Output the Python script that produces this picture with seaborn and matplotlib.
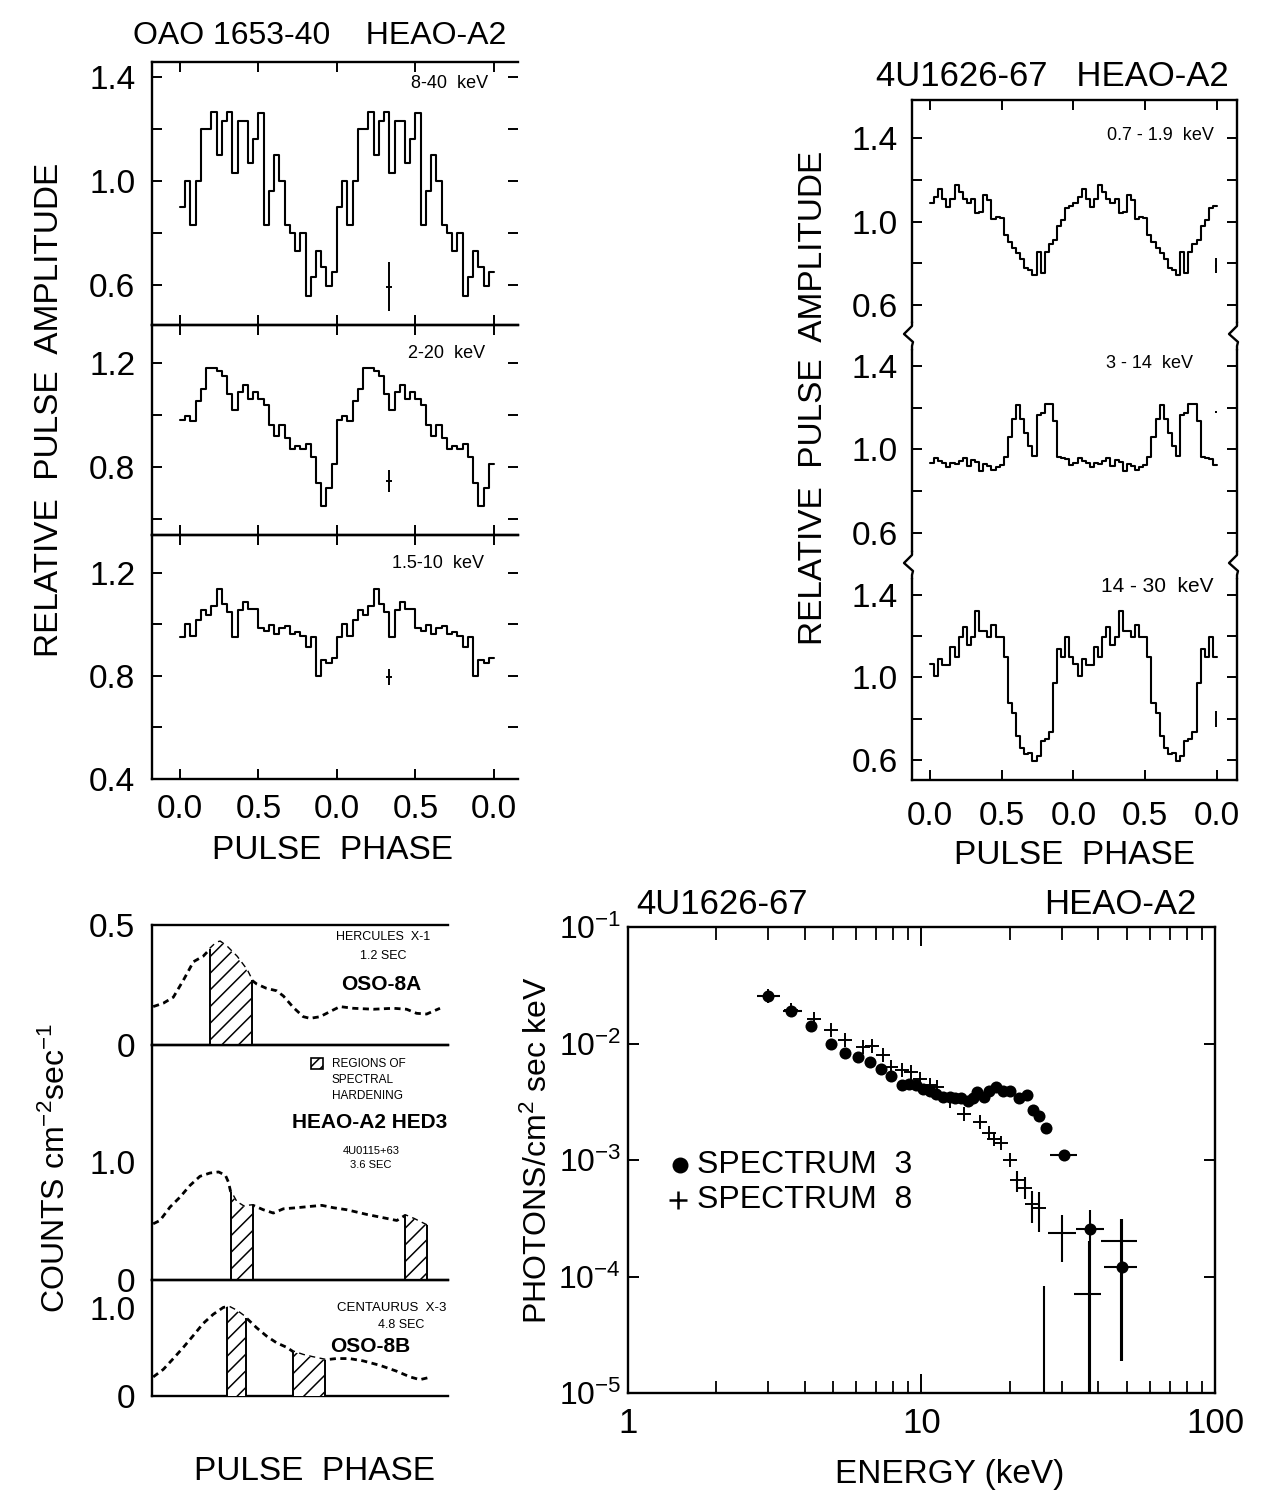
import numpy as np
import pandas as pd
import matplotlib
matplotlib.use("Agg")
import matplotlib.pyplot as plt
from matplotlib.lines import Line2D
from matplotlib.patches import Rectangle
from matplotlib.ticker import LogLocator, NullFormatter
import seaborn as sns

# ---------------------------------------------------------------- data
# OAO 1653-40 (HEAO-A2) relative pulse amplitude, 30 phase bins per cycle
oao_8_40 = [0.90, 1.00, 0.83, 1.00, 1.20, 1.20, 1.265, 1.10, 1.23, 1.265,
            1.03, 1.23, 1.23, 1.07, 1.16, 1.26, 0.83, 0.96, 1.10, 1.00,
            0.83, 0.80, 0.73, 0.80, 0.556, 0.63, 0.73, 0.67, 0.595, 0.65]
oao_2_20 = [0.98, 0.995, 0.975, 1.055, 1.10, 1.18, 1.18, 1.17, 1.15, 1.08,
            1.02, 1.09, 1.115, 1.06, 1.09, 1.06, 1.04, 0.96, 0.92, 0.96,
            0.91, 0.87, 0.88, 0.87, 0.89, 0.84, 0.74, 0.65, 0.72, 0.81]
oao_1p5_10 = [0.95, 1.00, 0.955, 1.017, 1.055, 1.035, 1.07, 1.135, 1.077, 1.047,
              0.95, 1.055, 1.086, 1.06, 1.06, 0.986, 0.974, 0.997, 0.962, 0.986,
              0.994, 0.962, 0.968, 0.955, 0.91, 0.95, 0.80, 0.86, 0.85, 0.87]
oao_bands = ["8-40  keV", "2-20  keV", "1.5-10  keV"]
oao_err_phase = [1.33, 1.33, 1.33]
oao_err_value = [0.594, 0.745, 0.795]
oao_err_size = [0.095, 0.042, 0.030]

# 4U1626-67 (HEAO-A2) relative pulse amplitude, 35 phase bins per cycle
u_0p7_1p9 = [1.091, 1.117, 1.157, 1.110, 1.070, 1.110, 1.176, 1.144, 1.107, 1.091,
             1.110, 1.043, 1.048, 1.128, 1.104, 1.011, 1.024, 1.016, 0.936, 0.904,
             0.872, 0.848, 0.819, 0.776, 0.768, 0.744, 0.856, 0.752, 0.856, 0.893,
             0.912, 0.979, 1.010, 1.064, 1.075]
u_3_14 = [0.936, 0.957, 0.946, 0.933, 0.914, 0.936, 0.930, 0.946, 0.957, 0.920,
          0.949, 0.941, 0.898, 0.930, 0.920, 0.901, 0.914, 0.925, 0.962, 1.061,
          1.144, 1.213, 1.144, 1.077, 1.016, 0.968, 1.165, 1.176, 1.218, 1.218,
          1.138, 0.965, 0.957, 0.952, 0.925]
u_14_30 = [1.065, 1.008, 1.089, 1.060, 1.060, 1.145, 1.097, 1.198, 1.242, 1.156,
           1.198, 1.323, 1.226, 1.226, 1.194, 1.253, 1.194, 1.194, 1.100, 0.876,
           0.827, 0.718, 0.661, 0.629, 0.637, 0.597, 0.621, 0.694, 0.702, 0.734,
           0.973, 1.140, 1.100, 1.198, 1.100]
u_bands = ["0.7 - 1.9  keV", "3 - 14  keV", "14 - 30  keV"]
u_err_phase = [1.99, 1.99, 1.99]
u_err_value = [0.788, 1.180, 0.800]
u_err_size = [0.036, 0.005, 0.040]

phase_ticks = [0.0, 0.5, 1.0, 1.5, 2.0]
phase_labels = ["0.0", "0.5", "0.0", "0.5", "0.0"]

# Pulse profiles with regions of spectral hardening (counts cm^-2 s^-1)
herc_phase = [0.004, 0.038, 0.072, 0.106, 0.140, 0.173, 0.196, 0.218, 0.230, 0.252,
              0.286, 0.320, 0.337, 0.354, 0.387, 0.421, 0.444, 0.477, 0.511, 0.534,
              0.568, 0.601, 0.635, 0.680, 0.748, 0.815, 0.860, 0.894, 0.928, 0.973]
herc_counts = [0.160, 0.174, 0.199, 0.270, 0.347, 0.370, 0.400, 0.426, 0.430, 0.410,
               0.368, 0.312, 0.270, 0.254, 0.236, 0.226, 0.204, 0.157, 0.118, 0.111,
               0.118, 0.139, 0.160, 0.153, 0.149, 0.153, 0.149, 0.132, 0.129, 0.153]
herc_hard = [(0.196, 0.337)]

x0115_phase = [0.004, 0.027, 0.061, 0.095, 0.128, 0.162, 0.196, 0.225, 0.248, 0.258,
               0.266, 0.285, 0.309, 0.342, 0.376, 0.410, 0.444, 0.489, 0.534, 0.574,
               0.613, 0.658, 0.726, 0.782, 0.827, 0.855, 0.883, 0.928]
x0115_counts = [0.476, 0.504, 0.618, 0.703, 0.800, 0.878, 0.906, 0.915, 0.887, 0.830,
                0.745, 0.660, 0.623, 0.632, 0.595, 0.567, 0.603, 0.612, 0.623, 0.632,
                0.612, 0.595, 0.555, 0.527, 0.504, 0.547, 0.518, 0.462]
x0115_hard = [(0.266, 0.342), (0.855, 0.928)]

cen_phase = [0.004, 0.038, 0.072, 0.106, 0.140, 0.173, 0.207, 0.241, 0.257, 0.286,
             0.320, 0.354, 0.387, 0.421, 0.455, 0.477, 0.511, 0.545, 0.584, 0.622,
             0.667, 0.713, 0.770, 0.826, 0.872, 0.905, 0.944]
cen_counts = [0.217, 0.302, 0.426, 0.554, 0.690, 0.826, 0.930, 1.008, 1.019, 0.969,
              0.884, 0.775, 0.682, 0.605, 0.554, 0.504, 0.465, 0.438, 0.411, 0.426,
              0.426, 0.400, 0.349, 0.283, 0.217, 0.186, 0.217]
cen_hard = [(0.252, 0.318), (0.477, 0.584)]

# 4U1626-67 photon spectra (keV, photons cm^-2 s^-1 keV^-1)
spec3_energy = [3.0, 3.6, 4.2, 4.9, 5.5, 6.1, 6.7, 7.3, 7.9, 8.6, 9.1, 9.6, 10.1,
                10.7, 11.2, 11.8, 12.5, 13.0, 13.6, 14.4, 15.0, 15.5, 16.3, 17.0,
                18.0, 19.0, 20.1, 21.5, 22.8, 23.9, 25.1, 26.6, 30.5, 37.4, 48.1]
spec3_flux = [0.0255, 0.0189, 0.0142, 0.0099, 0.0083, 0.0076, 0.0069, 0.0061, 0.0053,
              0.0044, 0.0045, 0.0044, 0.0041, 0.0039, 0.0037, 0.0035, 0.0035, 0.0034,
              0.0034, 0.0032, 0.0034, 0.0038, 0.0035, 0.0039, 0.0042, 0.0039, 0.0039,
              0.0034, 0.0036, 0.0027, 0.0024, 0.0019, 0.0011, 2.55e-4, 1.2e-4]
spec3_bar_energy = [3.0, 3.6, 30.5, 37.4, 48.1]
spec3_bar_flux = [0.0255, 0.0189, 0.0011, 2.55e-4, 1.2e-4]
spec3_bar_elo = [2.75, 3.37, 27.3, 33.6, 41.7]
spec3_bar_ehi = [3.30, 3.93, 34.0, 41.8, 54.2]
spec3_bar_flo = [0.0250, 0.0186, 0.00105, 5.0e-6, 1.9e-5]
spec3_bar_fhi = [0.0260, 0.0192, 0.00116, 3.7e-4, 3.1e-4]

spec8_energy = [3.0, 3.6, 4.3, 4.9, 5.5, 6.3, 6.8, 7.4, 7.9, 8.6, 9.2, 9.9, 10.7, 11.3,
                12.5, 14.0, 15.8, 17.0, 17.7, 18.7, 20.1, 21.2, 22.5, 23.8, 25.1]
spec8_flux = [0.0255, 0.0195, 0.0162, 0.0131, 0.0108, 0.0094, 0.0095, 0.0079, 0.0063,
              0.0059, 0.0057, 0.0050, 0.0044, 0.0042, 0.0032, 0.0025, 0.0021, 0.0017,
              0.0015, 0.0014, 0.0010, 6.7e-4, 5.8e-4, 4.2e-4, 3.9e-4]
spec8_bar_energy = [21.2, 22.5, 23.8, 25.1, 30.1, 37.1, 47.7]
spec8_bar_flux = [6.7e-4, 5.8e-4, 4.2e-4, 3.9e-4, 2.36e-4, 7.1e-5, 2.03e-4]
spec8_bar_elo = [21.2, 22.5, 23.8, 25.1, 27.0, 33.2, 40.9]
spec8_bar_ehi = [21.2, 22.5, 23.8, 25.1, 33.6, 40.9, 54.2]
spec8_bar_flo = [5.3e-4, 4.6e-4, 2.9e-4, 2.4e-4, 1.33e-4, 5.0e-6, 1.9e-5]
spec8_bar_fhi = [8.1e-4, 7.1e-4, 5.4e-4, 5.3e-4, 3.4e-4, 2.0e-4, 3.1e-4]
spec8_limit_energy = [26.2]
spec8_limit_top = [8.3e-5]
spec8_limit_bottom = [5.0e-6]

# ---------------------------------------------------------------- style
sns.set_theme(style="white")
FONT = ["Liberation Sans", "DejaVu Sans"]
plt.rcParams["font.family"] = FONT
plt.rcParams["mathtext.fontset"] = "custom"
plt.rcParams["mathtext.rm"] = "Liberation Sans"
plt.rcParams["mathtext.it"] = "Liberation Sans"
plt.rcParams["mathtext.bf"] = "Liberation Sans:bold"
plt.rcParams["hatch.linewidth"] = 1.1
plt.rcParams["axes.linewidth"] = 1.6
for key in ["text.color", "axes.labelcolor", "xtick.color", "ytick.color",
            "axes.edgecolor"]:
    plt.rcParams[key] = "black"

W, H = 1264, 1496
fig = plt.figure(figsize=(W / 100, H / 100), dpi=100)
fig.patch.set_facecolor("white")


def px_axes(x0, y0, x1, y1):
    return fig.add_axes([x0 / W, 1 - y1 / H, (x1 - x0) / W, (y1 - y0) / H])


def ftext(x, y, s, **kw):
    kw.setdefault("ha", "center")
    kw.setdefault("va", "center")
    kw.setdefault("color", "black")
    fig.text(x / W, 1 - y / H, s, **kw)


def profile(ax, vals):
    n = len(vals)
    edges = np.arange(2 * n + 1) / n
    amp = np.append(np.tile(vals, 2), vals[-1])
    df = pd.DataFrame({"phase": edges, "amp": amp})
    sns.lineplot(data=df, x="phase", y="amp", drawstyle="steps-post", color="black",
                 lw=1.5, ax=ax, estimator=None, sort=False, errorbar=None)
    ax.set(xlabel="", ylabel="")


def clean(ax, show):
    for side in ["left", "right", "top", "bottom"]:
        ax.spines[side].set_visible(side in show)
        ax.spines[side].set_color("black")
        ax.spines[side].set_linewidth(1.7)
    ax.set_facecolor("none")


# ---------------------------------------------------------------- OAO 1653-40
tl_boxes = [(152, 62, 518, 325), (152, 325, 518, 535), (152, 535, 518, 779)]
tl_ylims = [(0.446, 1.458), (0.538, 1.346), (0.40, 1.346)]
tl_yticks = [[0.6, 0.8, 1.0, 1.2, 1.4], [0.6, 0.8, 1.0, 1.2], [0.4, 0.6, 0.8, 1.0, 1.2]]
tl_ylabs = [["0.6", "", "1.0", "", "1.4"], ["", "0.8", "", "1.2"], ["0.4", "", "0.8", "", "1.2"]]
tl_label_pos = [(450, 83), (447, 353), (438, 563)]
oao_sets = [oao_8_40, oao_2_20, oao_1p5_10]
for i, box in enumerate(tl_boxes):
    ax = px_axes(*box)
    profile(ax, oao_sets[i])
    ax.errorbar([oao_err_phase[i]], [oao_err_value[i]], yerr=[oao_err_size[i]],
                xerr=[0.02], fmt="none", ecolor="black", elinewidth=1.4, capsize=0)
    ax.set_xlim(-0.178, 2.153)
    ax.set_ylim(*tl_ylims[i])
    ax.set_xticks(phase_ticks)
    ax.set_xticklabels(phase_labels)
    ax.set_yticks(tl_yticks[i])
    ax.set_yticklabels(tl_ylabs[i])
    clean(ax, ["left", "top", "bottom"])
    ax.tick_params(axis="both", direction="in", length=7, width=1.4, top=True,
                   right=True, bottom=True, left=True, labelsize=24, colors="black")
    ax.tick_params(axis="y", pad=12)
    ax.tick_params(axis="x", pad=11, labelbottom=(i == 2))
    ftext(*tl_label_pos[i], oao_bands[i], fontsize=13)

ftext(320, 36, "OAO 1653-40    HEAO-A2", fontsize=23)
ftext(50, 410, "RELATIVE  PULSE  AMPLITUDE", fontsize=24, rotation=90)
ftext(332, 850, "PULSE  PHASE", fontsize=24)

# ---------------------------------------------------------------- 4U1626-67 profiles
tr_boxes = [(912, 100, 1237, 336), (912, 336, 1237, 565), (912, 565, 1237, 780)]
tr_ylims = [(0.451, 1.584), (0.445, 1.544), (0.504, 1.544)]
tr_label_pos = [(1160, 135), (1150, 363), (1157, 587)]
tr_label_size = [13, 13, 15]
u_sets = [u_0p7_1p9, u_3_14, u_14_30]
for i, box in enumerate(tr_boxes):
    ax = px_axes(*box)
    profile(ax, u_sets[i])
    ax.errorbar([u_err_phase[i]], [u_err_value[i]], yerr=[u_err_size[i]],
                xerr=[0.006], fmt="none", ecolor="black", elinewidth=1.4, capsize=0)
    ax.set_xlim(-0.125, 2.139)
    ax.set_ylim(*tr_ylims[i])
    ax.set_xticks(phase_ticks)
    ax.set_xticklabels(phase_labels)
    ax.set_yticks([0.6, 0.8, 1.0, 1.2, 1.4])
    ax.set_yticklabels(["0.6", "", "1.0", "", "1.4"])
    show = ["left", "right"] + (["top"] if i == 0 else []) + (["bottom"] if i == 2 else [])
    clean(ax, show)
    ax.tick_params(axis="both", direction="in", length=7, width=1.4, labelsize=24,
                   left=True, right=True, top=(i == 0), bottom=(i == 2), colors="black")
    ax.tick_params(axis="y", pad=10)
    ax.tick_params(axis="x", pad=15, labelbottom=(i == 2))
    ftext(*tr_label_pos[i], u_bands[i], fontsize=tr_label_size[i])

# axis breaks between the stacked 4U1626-67 panels
for yb in (336, 565):
    for xb in (912, 1237):
        fig.add_artist(Line2D([xb / W, xb / W], [1 - (yb - 11) / H, 1 - (yb + 11) / H],
                              transform=fig.transFigure, color="white", lw=4))
        xs = np.array([xb, xb, xb - 8, xb + 1, xb, xb]) / W
        ys = 1 - np.array([yb - 14, yb - 10, yb - 2, yb + 6, yb + 10, yb + 14]) / H
        fig.add_artist(Line2D(xs, ys, transform=fig.transFigure, color="black", lw=1.7))

ftext(1052, 76, "4U1626-67   HEAO-A2", fontsize=25)
ftext(813, 398, "RELATIVE  PULSE  AMPLITUDE", fontsize=24, rotation=90)
ftext(1075, 855, "PULSE  PHASE", fontsize=24)

# ---------------------------------------------------------------- hardening profiles
bl_boxes = [(152, 925, 448, 1045), (152, 1045, 448, 1280), (152, 1280, 448, 1396)]
bl_ylims = [(0, 0.5), (0, 1.99), (0, 1.32)]
bl_yticks = [[0, 0.1, 0.2, 0.3, 0.4, 0.5], [0, 0.2, 0.4, 0.6, 0.8, 1.0],
             [0, 0.2, 0.4, 0.6, 0.8, 1.0]]
bl_ylabs = [["0", "", "", "", "", "0.5"], ["0", "", "", "", "", "1.0"],
            ["0", "", "", "", "", "1.0"]]
bl_sets = [(herc_phase, herc_counts, herc_hard), (x0115_phase, x0115_counts, x0115_hard),
           (cen_phase, cen_counts, cen_hard)]
for i, box in enumerate(bl_boxes):
    ax = px_axes(*box)
    ph, ct, hard = bl_sets[i]
    df = pd.DataFrame({"phase": ph, "counts": ct})
    sns.lineplot(data=df, x="phase", y="counts", color="black", lw=2.0,
                 linestyle=(0, (2.2, 1.6)), ax=ax, estimator=None, sort=False,
                 errorbar=None)
    for (a, b) in hard:
        xs = np.linspace(a, b, 40)
        ys = np.interp(xs, ph, ct)
        ax.fill_between(xs, 0, ys, facecolor="white", edgecolor="black", hatch="//",
                        linewidth=0, zorder=3)
        ax.vlines([a, b], 0, [ys[0], ys[-1]], color="black", lw=1.4, zorder=4)
    ax.set(xlabel="", ylabel="")
    ax.set_xlim(0, 1)
    ax.set_ylim(*bl_ylims[i])
    ax.set_xticks([])
    ax.set_yticks(bl_yticks[i])
    ax.set_yticklabels(bl_ylabs[i])
    clean(ax, ["left", "top", "bottom"])
    ax.tick_params(axis="y", direction="in", length=5, width=1.3, labelsize=24,
                   pad=12, colors="black")

ftext(383, 937, "HERCULES  X-1", fontsize=9)
ftext(383, 956, "1.2 SEC", fontsize=9)
ftext(381, 985, "OSO-8A", fontsize=15, fontweight="bold")
fig.add_artist(Rectangle((311 / W, 1 - 1069 / H), 12 / W, 11 / H, transform=fig.transFigure,
                         facecolor="white", edgecolor="black", hatch="///", lw=1.2))
ftext(332, 1064, "REGIONS OF", fontsize=8.5, ha="left")
ftext(332, 1080, "SPECTRAL", fontsize=8.5, ha="left")
ftext(332, 1096, "HARDENING", fontsize=8.5, ha="left")
ftext(370, 1122, "HEAO-A2 HED3", fontsize=15, fontweight="bold")
ftext(371, 1151, "4U0115+63", fontsize=8)
ftext(371, 1165, "3.6 SEC", fontsize=8)
ftext(392, 1308, "CENTAURUS  X-3", fontsize=9.5)
ftext(401, 1325, "4.8 SEC", fontsize=9)
ftext(370, 1346, "OSO-8B", fontsize=15, fontweight="bold")
ftext(56, 1168, r"COUNTS cm$^{-2}$sec$^{-1}$", fontsize=23, rotation=90)
ftext(315, 1472, "PULSE  PHASE", fontsize=24)

# ---------------------------------------------------------------- spectra
ax = px_axes(628, 927, 1215, 1393)
ax.set_xscale("log")
ax.set_yscale("log")
s3 = pd.DataFrame({"energy": spec3_energy, "flux": spec3_flux})
s8 = pd.DataFrame({"energy": spec8_energy, "flux": spec8_flux})
sns.scatterplot(data=s3, x="energy", y="flux", marker="o", s=75, color="black",
                edgecolor="black", linewidth=0, ax=ax, zorder=3)
sns.scatterplot(data=s8, x="energy", y="flux", marker="+", s=90, color="black",
                linewidth=1.4, ax=ax, zorder=3)
e3 = np.array(spec3_bar_energy)
f3 = np.array(spec3_bar_flux)
ax.errorbar(e3, f3, xerr=[e3 - np.array(spec3_bar_elo), np.array(spec3_bar_ehi) - e3],
            yerr=[f3 - np.array(spec3_bar_flo), np.array(spec3_bar_fhi) - f3],
            fmt="none", ecolor="black", elinewidth=1.5, capsize=0)
e8 = np.array(spec8_bar_energy)
f8 = np.array(spec8_bar_flux)
ax.errorbar(e8, f8, xerr=[e8 - np.array(spec8_bar_elo), np.array(spec8_bar_ehi) - e8],
            yerr=[f8 - np.array(spec8_bar_flo), np.array(spec8_bar_fhi) - f8],
            fmt="none", ecolor="black", elinewidth=1.5, capsize=0)
ax.vlines(spec8_limit_energy, spec8_limit_bottom, spec8_limit_top, color="black", lw=1.5)
ax.set(xlabel="", ylabel="")
ax.set_xlim(1, 100)
ax.set_ylim(1e-5, 1e-1)
ax.set_xticks([1, 10, 100])
ax.set_xticklabels(["1", "10", "100"])
ax.xaxis.set_minor_locator(LogLocator(base=10, subs=np.arange(2, 10)))
ax.xaxis.set_minor_formatter(NullFormatter())
ax.set_yticks([1e-5, 1e-4, 1e-3, 1e-2, 1e-1])
ax.set_yticklabels([r"10$^{-5}$", r"10$^{-4}$", r"10$^{-3}$", r"10$^{-2}$", r"10$^{-1}$"])
ax.yaxis.set_minor_locator(plt.NullLocator())
clean(ax, ["left", "right", "top", "bottom"])
ax.tick_params(axis="x", which="major", direction="in", length=14, width=1.4,
               top=True, bottom=True, labelsize=25, pad=10, colors="black")
ax.tick_params(axis="x", which="minor", direction="in", length=9, width=1.3,
               top=True, bottom=True)
ax.tick_params(axis="y", which="major", direction="in", length=8, width=1.4,
               left=True, right=True, labelsize=23, pad=5, colors="black")

ax.scatter([0.089], [0.489], transform=ax.transAxes, s=110, color="black", marker="o",
           clip_on=False)
ax.text(0.117, 0.489, "SPECTRUM  3", transform=ax.transAxes, fontsize=23,
        va="center", ha="left", color="black")
ax.scatter([0.085], [0.414], transform=ax.transAxes, s=180, color="black", marker="+",
           linewidth=1.8, clip_on=False)
ax.text(0.117, 0.414, "SPECTRUM  8", transform=ax.transAxes, fontsize=23,
        va="center", ha="left", color="black")

ftext(636, 904, "4U1626-67", fontsize=25, ha="left")
ftext(1120, 904, "HEAO-A2", fontsize=25)
ftext(538, 1150, r"PHOTONS/cm$^{2}$ sec keV", fontsize=23, rotation=90)
ftext(950, 1474, "ENERGY (keV)", fontsize=24)

fig.savefig("out.png", dpi=100, facecolor="white")
